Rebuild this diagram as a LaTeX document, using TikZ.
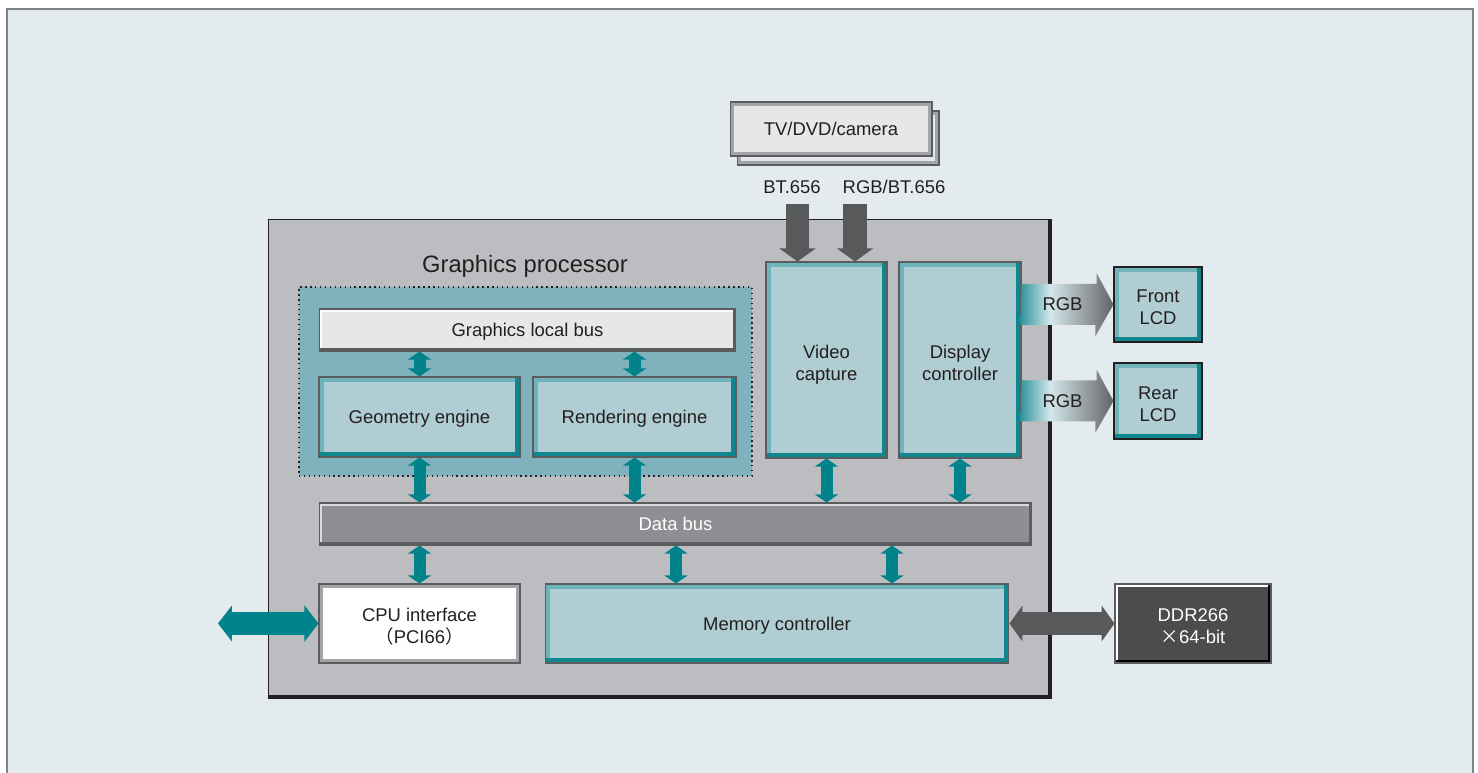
\documentclass[tikz,border=0pt]{standalone}
\usepackage{fontspec}
\setmainfont{Liberation Sans}
\newfontfamily\cjk{Noto Sans CJK JP}
\usetikzlibrary{arrows.meta, calc}

\definecolor{bgblue}{HTML}{E3EBEE}
\definecolor{outerline}{HTML}{808285}
\definecolor{gpfill}{HTML}{BCBDC0}
\definecolor{zonefill}{HTML}{7FB2BD}
\definecolor{tealfill}{HTML}{AFCDD3}
\definecolor{bevlight}{HTML}{6FB3BB}
\definecolor{bevdark}{HTML}{10878F}
\definecolor{arrteal}{HTML}{00838B}
\definecolor{arrdark}{HTML}{58595B}
\definecolor{busfill}{HTML}{E6E7E9}
\definecolor{busdark}{HTML}{5B5C5E}
\definecolor{dbfill}{HTML}{8E8F93}
\definecolor{dbdark}{HTML}{5E5F62}
\definecolor{dblight}{HTML}{D9DADC}
\definecolor{ddrfill}{HTML}{4B4C4E}
\definecolor{framegray}{HTML}{A3A4A7}
\definecolor{txt}{HTML}{231F20}
\definecolor{rgbteal}{HTML}{2F949D}
\definecolor{rgblight}{HTML}{D4E7EA}
\definecolor{rgbgray}{HTML}{626467}

\pgfdeclarehorizontalshading{rgbgrad}{100bp}{color(0bp)=(rgbteal); color(25bp)=(rgbteal); color(41bp)=(rgblight); color(75bp)=(rgbgray); color(100bp)=(rgbgray)}

\begin{document}
\begin{tikzpicture}[x=0.02cm, y=-0.02cm,
    every node/.style={font=\fontsize{10.5}{12.5}\selectfont, text=txt, inner sep=0pt, align=center, text depth=0pt},
    twoline/.style={text height=23pt},
    bevel/.style n args={4}{fill=#1, path picture={
        \fill[#2] ([yshift=#4]path picture bounding box.south west) rectangle ([xshift=-#4]path picture bounding box.north east);
        \fill[#3] ([shift={(#4,#4)}]path picture bounding box.south west) rectangle ([shift={(-#4,-#4)}]path picture bounding box.north east);}},
    gpbox/.style={draw=txt, line width=0.6pt, bevel={txt}{gpfill}{gpfill}{0.08cm}},
    zone/.style={draw=txt, dotted, line width=0.8pt, fill=zonefill},
    tealbox/.style={draw=busdark, line width=0.6pt, bevel={bevdark}{bevlight}{tealfill}{0.1cm}},
    lcd/.style={draw=txt, line width=0.6pt, twoline, bevel={bevdark}{bevlight}{tealfill}{0.1cm}},
    localbus/.style={draw=busdark, line width=0.6pt, bevel={busdark}{white}{busfill}{0.06cm}},
    databus/.style={draw=busdark, line width=0.6pt, text=white, bevel={dbdark}{dblight}{dbfill}{0.06cm}},
    cpubox/.style={draw=busdark, line width=0.6pt, twoline, bevel={framegray}{framegray}{white}{0.08cm}},
    ddrbox/.style={draw=busdark, line width=0.6pt, twoline, text=white, bevel={black}{white}{ddrfill}{0.05cm}},
    tvbox/.style={draw=busdark, line width=0.6pt, bevel={framegray}{framegray}{busfill}{0.08cm}},
    tealsmall/.style={draw=arrteal, line width=0.24cm,
        {Triangle[width=0.46cm, length=0.16cm, line width=0.6pt]}-{Triangle[width=0.46cm, length=0.16cm, line width=0.6pt]}},
    tealbig/.style={draw=arrteal, line width=0.46cm,
        {Triangle[width=0.72cm, length=0.28cm, line width=0.6pt]}-{Triangle[width=0.72cm, length=0.28cm, line width=0.6pt]}},
    darkbig/.style={draw=arrdark, line width=0.46cm,
        {Triangle[width=0.72cm, length=0.26cm, line width=0.6pt]}-{Triangle[width=0.72cm, length=0.26cm, line width=0.6pt]}},
    darkdown/.style={draw=arrdark, line width=0.47cm, -{Triangle[width=0.72cm, length=0.26cm, line width=0.6pt]}},
    rgbarrow/.style={shading=rgbgrad}]
    \useasboundingbox (0,0) rectangle (1478,773);

    % Fond
    \draw[draw=outerline, line width=1.2pt, fill=bgblue] (7,9) rectangle (1473,790);

    % Processeur graphique
    \node[gpbox, minimum width=15.68cm, minimum height=9.6cm] (gp) at (660,459) {};
    \node[font=\fontsize{13.5}{16}\selectfont] (gptitle) at (525,264) {Graphics processor};
    \node[zone, minimum width=9.06cm, minimum height=3.78cm] (zone) at (525.5,381.5) {};
    \node[localbus, minimum width=8.34cm, minimum height=0.84cm] (glb) at (527.5,330) {Graphics local bus};
    \node[tealbox, minimum width=4.02cm, minimum height=1.6cm] (geo) at (419.5,417) {Geometry engine};
    \node[tealbox, minimum width=4.06cm, minimum height=1.6cm] (rend) at (634.5,417) {Rendering engine};
    \node[tealbox, twoline, minimum width=2.42cm, minimum height=3.92cm] (vc) at (826.5,360) {Video\\capture};
    \node[tealbox, twoline, minimum width=2.44cm, minimum height=3.92cm] (dc) at (960,360) {Display\\controller};
    \node[databus, minimum width=14.26cm, minimum height=0.84cm] (db) at (675.5,524) {Data bus};
    \node[cpubox, minimum width=4.02cm, minimum height=1.58cm] (cpu) at (419.5,623.5) {CPU interface\\{\cjk （}PCI66{\cjk ）}};
    \node[tealbox, minimum width=9.28cm, minimum height=1.58cm] (mc) at (777,623.5) {Memory controller};

    % Peripheriques
    \node[ddrbox, minimum width=3.12cm, minimum height=1.58cm] (ddr) at (1193,623.5) {DDR266\\{\cjk ×}64-bit};
    \node[lcd, minimum width=1.76cm, minimum height=1.5cm] (fl) at (1158,304.5) {Front\\LCD};
    \node[lcd, minimum width=1.76cm, minimum height=1.52cm] (rl) at (1158,401) {Rear\\LCD};
    \node[tvbox, minimum width=4.04cm, minimum height=1.08cm] (tvback) at (838,138) {};
    \node[tvbox, minimum width=4.04cm, minimum height=1.08cm] (tv) at (831,129) {TV/DVD/camera};
    \node (bt1) at (792,187) {BT.656};
    \node (bt2) at (894,187) {RGB/BT.656};

    % Bus local et bus de donnees
    \draw[tealsmall] (geo.north) -- (geo.north |- glb.south);
    \draw[tealsmall] (rend.north) -- (rend.north |- glb.south);
    \draw[tealsmall] (geo.south) -- (geo.south |- db.north);
    \draw[tealsmall] (rend.south) -- (rend.south |- db.north);
    \draw[tealsmall] (vc.south) -- (vc.south |- db.north);
    \draw[tealsmall] (dc.south) -- (dc.south |- db.north);
    \draw[tealsmall] (cpu.north) -- (cpu.north |- db.south);
    \coordinate (mc1) at (676,0);
    \coordinate (mc2) at (892,0);
    \draw[tealsmall] (mc1 |- mc.north) -- (mc1 |- db.south);
    \draw[tealsmall] (mc2 |- mc.north) -- (mc2 |- db.south);

    % Liaisons externes
    \coordinate (cpuext) at (218,623.5);
    \draw[tealbig] (cpuext) -- (cpu.west);
    \draw[darkbig] (mc.east) -- (ddr.west);
    \coordinate (in1) at (797.5,204);
    \coordinate (in2) at (855,204);
    \draw[darkdown] (in1) -- (in1 |- vc.north);
    \draw[darkdown] (in2) -- (in2 |- vc.north);

    % Sorties RGB
    \shade[rgbarrow] (dc.east |- fl.west) ++(0,-20.5) -- ++(75,0) -- ++(0,-11) -- (fl.west)
        -- ++(-18,31.5) -- ++(0,-11) -- ++(-75,0) -- cycle;
    \node (rgbfront) at ($(dc.east |- fl.west)+(41,0)$) {RGB};
    \shade[rgbarrow] (dc.east |- rl.west) ++(0,-20.5) -- ++(75,0) -- ++(0,-11) -- (rl.west)
        -- ++(-18,31.5) -- ++(0,-11) -- ++(-75,0) -- cycle;
    \node (rgbrear) at ($(dc.east |- rl.west)+(41,0)$) {RGB};
\end{tikzpicture}
\end{document}
